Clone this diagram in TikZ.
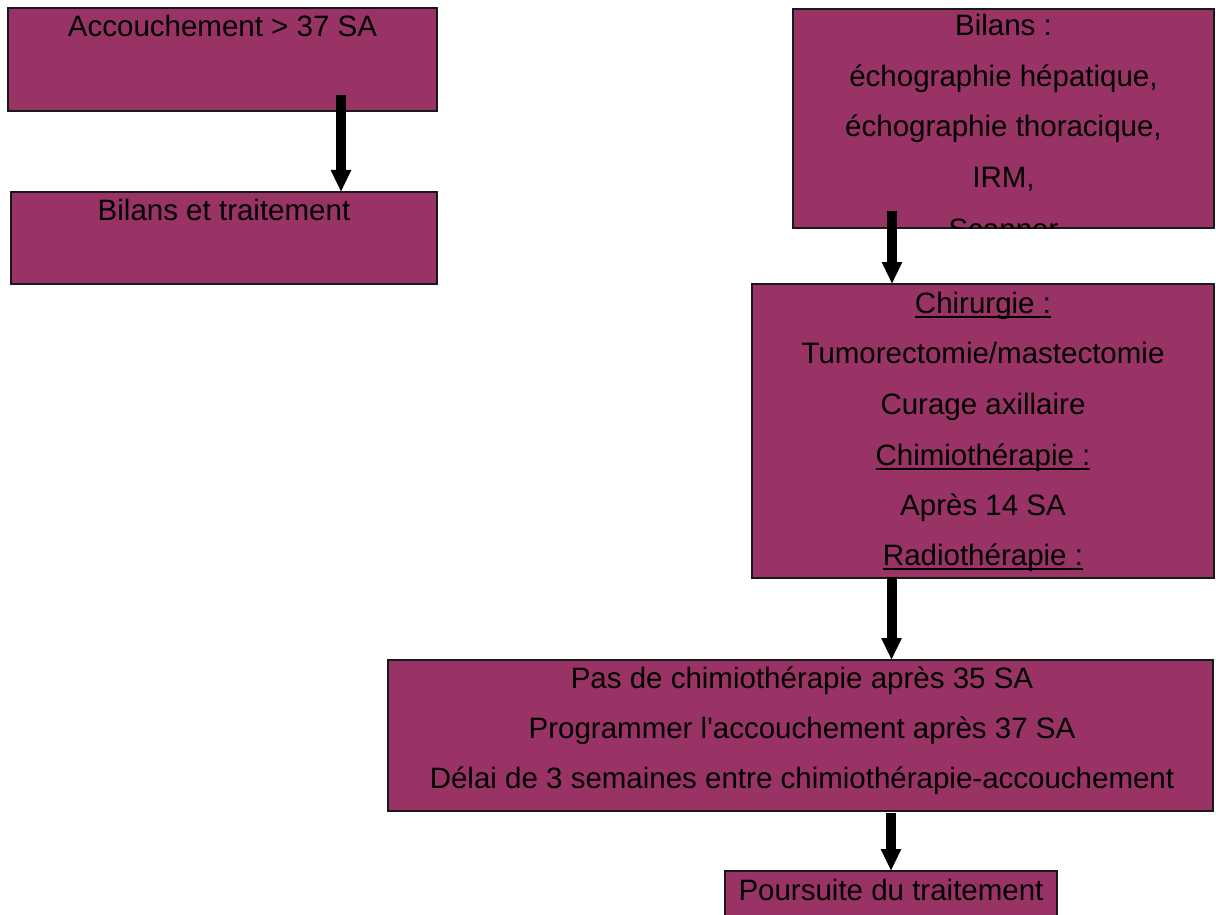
\documentclass[tikz,border=0pt]{standalone}
\usepackage{fontspec}
\setmainfont{Liberation Sans}
\usetikzlibrary{arrows.meta}
\definecolor{boxplum}{HTML}{993366}
\newsavebox\ulinebox
\newcommand\ulinetext[1]{\sbox\ulinebox{#1}\rlap{\rule[-5pt]{\wd\ulinebox}{2pt}}\usebox\ulinebox}
\begin{document}
\begin{tikzpicture}[x=1pt,y=-1pt,
  box/.style={draw=black!90, line width=1.5pt, fill=boxplum, anchor=north west, inner sep=0pt, outer sep=0pt},
  txt/.style={anchor=base, inner sep=0pt, outer sep=0pt, font=\fontsize{29.5pt}{35pt}\selectfont},
  bigarrow/.style={line width=10pt, -{Triangle[width=19pt,length=22pt]}}]
\useasboundingbox (0,0) rectangle (1216,915);
\fill[white] (0,0) rectangle (1216,915);

% boxes
\node[box, minimum width=429pt, minimum height=103pt] (A) at (8,8) {};
\node[box, minimum width=426pt, minimum height=92pt] (B) at (11,192) {};
\node[box, minimum width=421pt, minimum height=219pt] (C) at (793,9) {};
\node[box, minimum width=462pt, minimum height=294pt] (D) at (752,284) {};
\node[box, minimum width=825pt, minimum height=151pt] (E) at (388,660) {};
\node[box, minimum width=332pt, minimum height=70pt] (F) at (725,871) {};

% texts
\node[txt] (At) at (222.5,37) {Accouchement > 37 SA};
\node[txt] (Bt) at (224,220) {Bilans et traitement};
\begin{scope}
  \clip (C.north west) rectangle (C.south east);
  \node[txt] (Ct1) at (1003.5,36) {Bilans :};
  \node[txt] (Ct2) at (1003.5,87) {échographie hépatique,};
  \node[txt] (Ct3) at (1003.5,137) {échographie thoracique,};
  \node[txt] (Ct4) at (1003.5,188) {IRM,};
  \node[txt] (Ct5) at (1003.5,239) {Scanner};
\end{scope}
\node[txt] (Dt1) at (983,313) {\ulinetext{Chirurgie :}};
\node[txt] (Dt2) at (983,363) {Tumorectomie/mastectomie};
\node[txt] (Dt3) at (983,414) {Curage axillaire};
\node[txt] (Dt4) at (983,465) {\ulinetext{Chimiothérapie :}};
\node[txt] (Dt5) at (983,515) {Après 14 SA};
\node[txt] (Dt6) at (983,565) {\ulinetext{Radiothérapie :}};
\node[txt] (Et1) at (802,688) {Pas de chimiothérapie après 35 SA};
\node[txt] (Et2) at (802,738) {Programmer l\textquotesingle accouchement après 37 SA};
\node[txt] (Et3) at (802,788) {Délai de 3 semaines entre chimiothérapie-accouchement};
\node[txt] (Ft) at (891,900) {Poursuite du traitement};

% arrows
\coordinate (a1) at (341,95);
\coordinate (a2) at (892,211);
\coordinate (a3) at (891.5,577);
\coordinate (a4) at (891,813);
\draw[bigarrow] (a1) -- (a1 |- B.north);
\draw[bigarrow] (a2) -- (a2 |- D.north);
\draw[bigarrow] (a3) -- (a3 |- E.north);
\draw[bigarrow] (a4) -- (a4 |- F.north);
\end{tikzpicture}
\end{document}
